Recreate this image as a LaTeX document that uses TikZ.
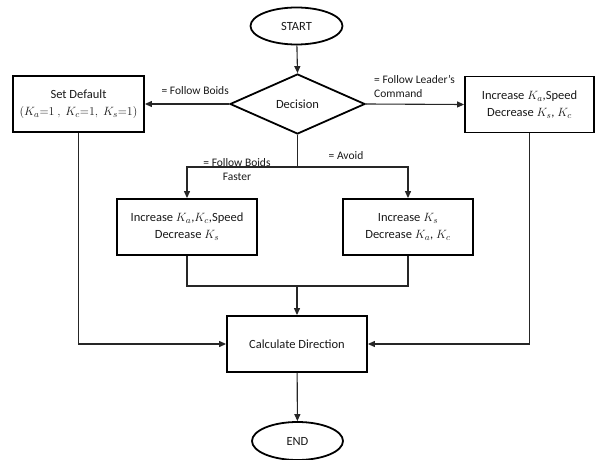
\documentclass[tikz,border=0pt]{standalone}
\usepackage{fontspec}
\setmainfont{Carlito}
\usetikzlibrary{shapes.geometric,arrows.meta}
\begin{document}
\begin{tikzpicture}[x=1pt,y=-1pt,
  every node/.style={text=black!90},
  boxtext/.style={font=\fontsize{12.5}{17}\selectfont},
  proc/.style={boxtext, draw=black, line width=1.8pt, minimum height=56pt, align=center, inner sep=0pt},
  term/.style={boxtext, draw=black, ellipse, line width=1.8pt, minimum width=92pt, minimum height=37pt, inner sep=0pt},
  decide/.style={boxtext, draw=black, diamond, aspect=2.25, line width=1.8pt, minimum width=135pt, minimum height=60pt, inner sep=0pt},
  lbl/.style={font=\fontsize{11.5}{13.5}\selectfont, inner sep=0pt},
  link/.style={line width=1.1pt, draw=black!85},
  arr/.style={link, -{Triangle[length=7pt,width=6pt]}}
]
\useasboundingbox (0,0) rectangle (595,460);

% terminals and decision
\node[term] (start) at (296.5,26) {START};
\node[decide] (dec) at (297.5,104) {Decision};

% process boxes
\node[proc, minimum width=131pt] (setdef) at (78.5,104)
  {Set Default\\$(K_a{=}1\ ,\ K_c{=}1,\ K_s{=}1)$};
\node[proc, minimum width=129pt] (lead) at (529.5,104.5)
  {Increase $K_a$,Speed\\Decrease $K_s$, $K_c$};
\node[proc, minimum width=140pt] (fast) at (187,227)
  {Increase $K_a$,$K_c$,Speed\\Decrease $K_s$};
\node[proc, minimum width=130pt] (avoid) at (408,227)
  {Increase $K_s$\\Decrease $K_a$, $K_c$};
\node[proc, minimum width=140pt] (calc) at (297,344) {Calculate Direction};
\node[term, minimum width=91pt, minimum height=38pt] (end) at (297.5,441) {END};

% branch labels
\node[lbl, anchor=east] (lboids) at (229,91) {= Follow Boids};
\node[lbl, anchor=west, align=left] (lleader) at (374,86.5) {= Follow Leader's\\Command};
\node[lbl, align=center, font=\fontsize{11.5}{14}\selectfont] (lfaster) at (237,170) {= Follow Boids\\Faster};
\node[lbl] (lavoid) at (346,156) {= Avoid};

% junction points
\coordinate (split) at (297.5,167);
\coordinate (join) at (297,286);

% connectors
\draw[arr] (start) -- (dec.north);
\draw[arr] (dec.west) -- (setdef.east);
\draw[arr] (dec.east) -- (lead.west);
\draw[link] (dec.south) -- (split);
\draw[arr] (split) -| (fast.north);
\draw[arr] (split) -| (avoid.north);
\draw[link] (fast.south) |- (join) -| (avoid.south);
\draw[arr] (join) -- (calc.north);
\draw[arr] (setdef.south) |- (calc.west);
\draw[arr] (lead.south) |- (calc.east);
\draw[arr] (calc) -- (end);
\end{tikzpicture}
\end{document}
